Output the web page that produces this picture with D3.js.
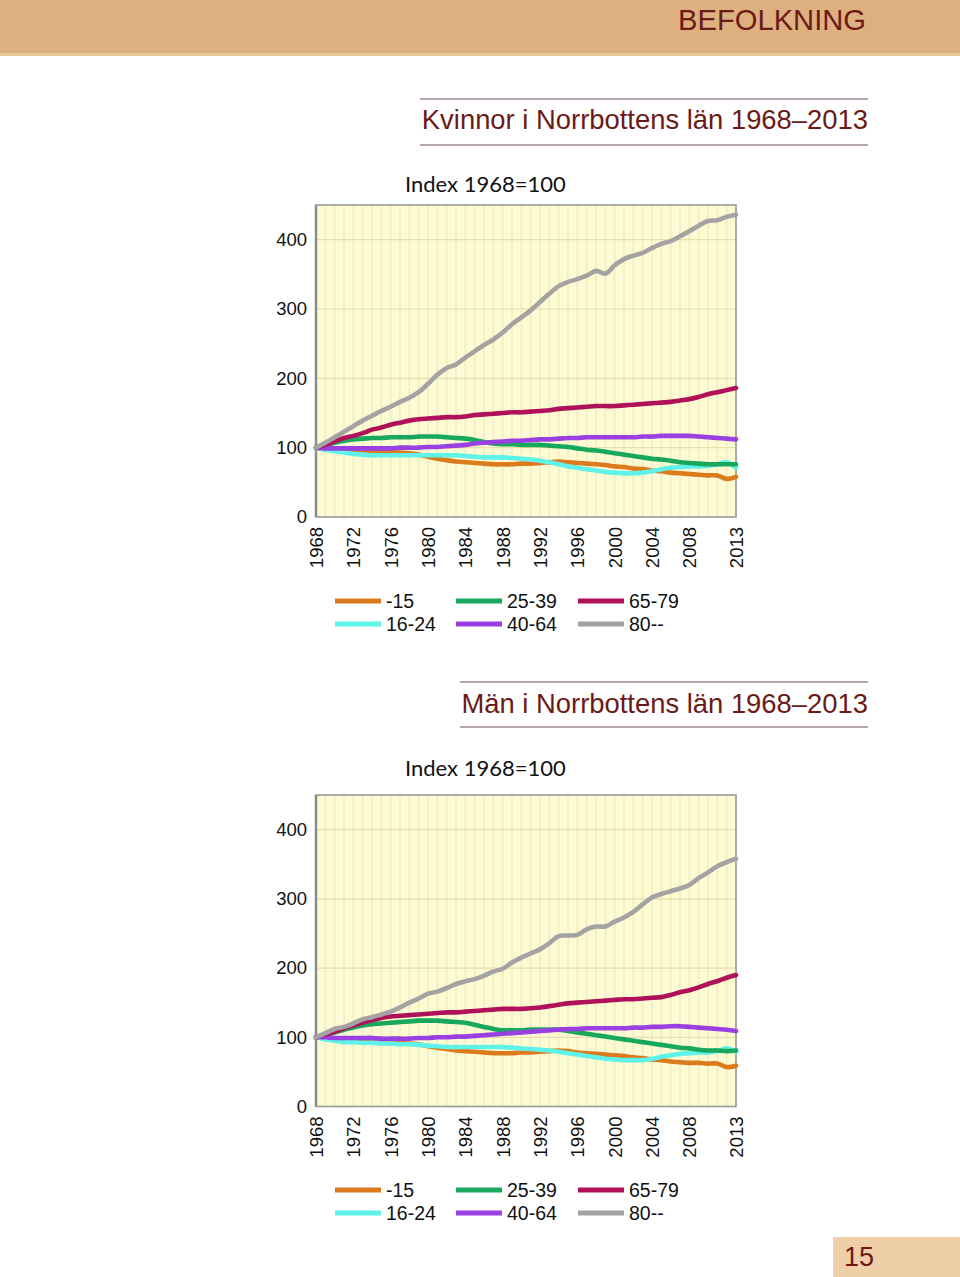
<!DOCTYPE html>
<html>
<head>
<meta charset="utf-8">
<script src="https://cdn.jsdelivr.net/npm/d3@7"></script>
<style>
  html, body { margin: 0; padding: 0; background: #ffffff; }
  svg { display: block; }
</style>
</head>
<body>
<svg id="page" width="960" height="1277"></svg>
<script>
// ---------------- DATA ----------------
const years = [1968,1969,1970,1971,1972,1973,1974,1975,1976,1977,1978,1979,1980,1981,1982,1983,1984,1985,1986,1987,1988,1989,1990,1991,1992,1993,1994,1995,1996,1997,1998,1999,2000,2001,2002,2003,2004,2005,2006,2007,2008,2009,2010,2011,2012,2013];
const xTickLabels = [1968,1972,1976,1980,1984,1988,1992,1996,2000,2004,2008,2013];
const yTickLabels = [0,100,200,300,400];
const seriesNames = ["-15","16-24","25-39","40-64","65-79","80--"];
const seriesColors = ["#dc7a1e","#5ef2ea","#17a85e","#9a3fe2","#b0125a","#a3a3a3"];

// Kvinnor (women)
const womenU15   = [100,98,97,97,96,96,95,95,94,93,92,90,87,84,82,80,79,78,77,76,76,76,77,77,78,79,80,79,78,77,76,75,73,72,70,69,67,66,64,63,62,61,60,60,55,58];
const women16_24 = [100,97,95,93,91,90,89,89,89,89,89,89,89,89,89,89,88,87,86,86,86,85,84,83,81,79,76,73,71,69,67,65,64,63,63,64,66,69,71,72,73,73,74,76,79,71];
const women25_39 = [100,103,107,110,112,113,114,114,115,115,115,116,116,116,115,114,113,111,108,106,105,105,104,104,104,103,102,101,99,97,96,94,92,90,88,86,84,83,81,79,78,77,76,76,76,76];
const women40_64 = [100,99,99,99,99,99,99,99,99,100,100,100,101,101,102,103,104,106,107,108,109,110,110,111,112,112,113,114,114,115,115,115,115,115,115,116,116,117,117,117,117,116,115,114,113,112];
const women65_79 = [100,104,109,114,117,121,126,129,133,136,139,141,142,143,144,144,145,147,148,149,150,151,151,152,153,154,156,157,158,159,160,160,160,161,162,163,164,165,166,168,170,173,177,180,183,186];
const women80    = [100,107,115,123,131,139,146,153,159,166,172,180,192,205,215,220,230,239,248,256,266,278,288,298,310,322,333,339,343,348,355,351,363,372,377,381,388,394,398,405,412,420,427,428,433,436];

// Män (men)
const menU15   = [100,98,96,95,95,94,94,93,92,92,91,90,87,85,83,81,80,79,78,77,77,77,78,78,79,80,81,80,78,77,76,75,74,73,71,70,68,67,65,64,63,63,62,62,57,59];
const men16_24 = [100,97,95,93,93,92,92,91,91,90,90,89,88,87,86,86,86,86,86,86,86,85,84,83,82,81,79,77,75,73,71,69,68,67,67,67,69,72,74,76,77,78,78,80,84,79];
const men25_39 = [100,103,107,111,114,117,119,120,121,122,123,124,124,124,123,122,121,118,115,112,110,110,110,111,111,111,111,109,107,105,103,101,99,97,95,93,91,89,87,85,84,82,81,81,80,81];
const men40_64 = [100,100,99,99,99,99,99,98,98,98,98,99,99,100,100,101,101,102,103,104,105,106,107,108,109,110,111,112,112,113,113,113,113,113,114,114,115,115,116,116,115,114,113,112,111,109];
const men65_79 = [100,104,108,113,117,121,125,128,130,131,132,133,134,135,136,136,137,138,139,140,141,141,141,142,143,145,147,149,150,151,152,153,154,155,155,156,157,158,161,165,168,172,177,181,186,190];
const men80    = [100,106,112,115,120,126,129,133,137,143,150,156,163,166,171,177,181,184,189,195,199,208,215,221,227,236,246,247,248,256,260,260,267,273,281,292,302,307,311,315,320,330,338,347,353,358];

const headerText = "BEFOLKNING";
const pageNumber = "15";
const indexLabel = "Index 1968=100";
const titles = ["Kvinnor i Norrbottens län 1968–2013", "Män i Norrbottens län 1968–2013"];

// ---------------- DRAW ----------------
const svg = d3.select("#page");
const titleColor = "#6b1a17";
const sansFont = "'Liberation Sans', Arial, Helvetica, sans-serif";

// header band
svg.append("rect").attr("x",0).attr("y",0).attr("width",960).attr("height",55).attr("fill","#dfb07f");
svg.append("rect").attr("x",0).attr("y",53).attr("width",960).attr("height",3).attr("fill","#e9c796");
svg.append("text").attr("x",866).attr("y",30).attr("text-anchor","end")
  .attr("font-family",sansFont)
  .attr("font-size",30).attr("fill",titleColor)
  .attr("textLength",188).attr("lengthAdjust","spacingAndGlyphs").text(headerText);

// page number box
svg.append("rect").attr("x",833).attr("y",1237).attr("width",127).attr("height",40).attr("fill","#efcfa8");
svg.append("text").attr("x",844).attr("y",1266).attr("font-family",sansFont)
  .attr("font-size",27).attr("fill",titleColor).text(pageNumber);

function drawChart(opt) {
  const g = svg.append("g");
  // title with rules
  g.append("line").attr("x1",opt.ruleX).attr("x2",868).attr("y1",opt.ruleTop).attr("y2",opt.ruleTop)
    .attr("stroke","#9c8a88").attr("stroke-width",1.3);
  g.append("line").attr("x1",opt.ruleX).attr("x2",868).attr("y1",opt.ruleBottom).attr("y2",opt.ruleBottom)
    .attr("stroke","#9c8a88").attr("stroke-width",1.3);
  g.append("text").attr("x",868).attr("y",opt.titleY).attr("text-anchor","end")
    .attr("font-family",sansFont).attr("font-size",27.4).attr("fill",titleColor).text(opt.title);
  g.append("text").attr("x",405).attr("y",opt.indexY)
    .attr("font-family","Lato, 'Open Sans', sans-serif").attr("font-size",22).attr("fill","#111").text(indexLabel);

  const x = d3.scaleLinear().domain([years[0], years[years.length-1]]).range([316, 736]);
  const y = d3.scaleLinear().domain([0, 450]).range([opt.bottom, opt.top]);

  // plot background
  g.append("rect").attr("x",316).attr("y",opt.top).attr("width",420).attr("height",opt.bottom-opt.top)
    .attr("fill","#fdfbd3");
  // vertical grid (one per year)
  g.append("g").selectAll("line").data(years).join("line")
    .attr("x1",d=>x(d)).attr("x2",d=>x(d)).attr("y1",opt.top).attr("y2",opt.bottom)
    .attr("stroke","#ebe5b6").attr("stroke-width",1);
  // horizontal grid
  g.append("g").selectAll("line").data(yTickLabels.filter(v=>v>0)).join("line")
    .attr("x1",316).attr("x2",736).attr("y1",d=>y(d)).attr("y2",d=>y(d))
    .attr("stroke","#e6dfae").attr("stroke-width",1.2);
  // border
  g.append("rect").attr("x",316).attr("y",opt.top).attr("width",420).attr("height",opt.bottom-opt.top)
    .attr("fill","none").attr("stroke","#9a9a98").attr("stroke-width",1.6);
  g.append("line").attr("x1",316).attr("x2",316).attr("y1",opt.top).attr("y2",opt.bottom)
    .attr("stroke","#8c8c8a").attr("stroke-width",2.5);

  // y axis labels
  const yAxis = d3.axisLeft(y).tickValues(yTickLabels).tickSize(0).tickPadding(9);
  const ya = g.append("g").attr("transform","translate(316,0)").call(yAxis);
  ya.select(".domain").remove();
  ya.selectAll("text").attr("font-family",sansFont).attr("font-size",18.5).attr("fill","#111");

  // x axis labels (rotated)
  const xAxis = d3.axisBottom(x).tickValues(xTickLabels).tickSize(0).tickFormat(d3.format("d"));
  const xa = g.append("g").attr("transform",`translate(0,${opt.bottom})`).call(xAxis);
  xa.select(".domain").remove();
  xa.selectAll("text")
    .attr("font-family",sansFont).attr("font-size",18.5).attr("fill","#111")
    .attr("text-anchor","end")
    .attr("transform","rotate(-90)")
    .attr("x",-10).attr("y",0).attr("dy","0.35em");

  // lines
  const line = d3.line().x((d,i)=>x(years[i])).y(d=>y(d)).curve(d3.curveCatmullRom.alpha(0.5));
  opt.series.forEach((s,i)=>{
    g.append("path").datum(s).attr("d",line).attr("fill","none")
      .attr("stroke",seriesColors[i]).attr("stroke-width",4.6)
      .attr("stroke-linejoin","round").attr("stroke-linecap","round");
  });

  // legend
  const cols = [335, 456, 578];
  const lg = g.append("g");
  seriesNames.forEach((name,i)=>{
    const col = Math.floor(i/2), row = i%2;
    const ly = opt.legendY + row*23;
    lg.append("line").attr("x1",cols[col]).attr("x2",cols[col]+46).attr("y1",ly).attr("y2",ly)
      .attr("stroke",seriesColors[i]).attr("stroke-width",5);
    lg.append("text").attr("x",cols[col]+51).attr("y",ly).attr("dy","0.36em")
      .attr("font-family",sansFont).attr("font-size",19.5).attr("fill","#111").text(name);
  });
}

drawChart({
  title: titles[0], ruleX: 420, ruleTop: 99, ruleBottom: 145, titleY: 129, indexY: 192,
  top: 205, bottom: 517,
  series: [womenU15, women16_24, women25_39, women40_64, women65_79, women80],
  legendY: 601
});
drawChart({
  title: titles[1], ruleX: 460, ruleTop: 682, ruleBottom: 727, titleY: 713, indexY: 776,
  top: 795, bottom: 1106.5,
  series: [menU15, men16_24, men25_39, men40_64, men65_79, men80],
  legendY: 1190
});
</script>
</body>
</html>
